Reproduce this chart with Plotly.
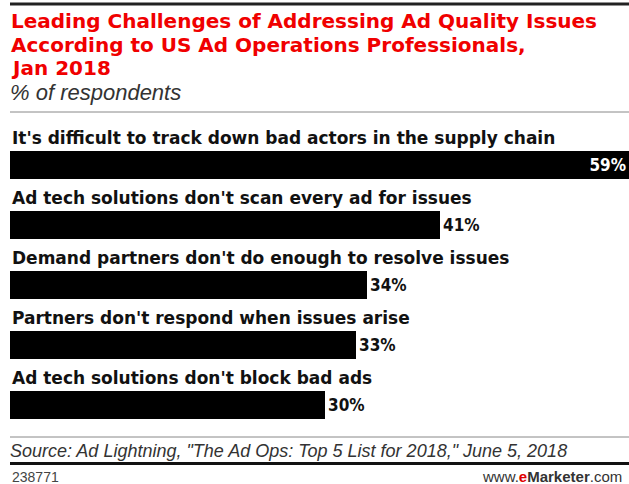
import plotly.graph_objects as go

categories = [
    "It's difficult to track down bad actors in the supply chain",
    "Ad tech solutions don't scan every ad for issues",
    "Demand partners don't do enough to resolve issues",
    "Partners don't respond when issues arise",
    "Ad tech solutions don't block bad ads",
]
values = [59, 41, 34, 33, 30]
title_lines = [
    "Leading Challenges of Addressing Ad Quality Issues",
    "According to US Ad Operations Professionals,",
    "Jan 2018",
]
subtitle = "% of respondents"
source = 'Source: Ad Lightning, "The Ad Ops: Top 5 List for 2018," June 5, 2018'
chart_id = "238771"

W, H = 629, 484
def py(p):  # pixel y -> paper y
    return 1 - p / H
def px(p):
    return p / W

COND_FONT = "DejaVu Sans Condensed, DejaVu Sans, sans-serif"
BOLD_FONT = "DejaVu Sans, sans-serif"
TEXT_FONT = "Liberation Sans, Arial, sans-serif"

idx = list(range(len(categories)))
positions = ["inside" if i == 0 else "outside" for i in idx]

fig = go.Figure()
fig.add_trace(go.Bar(
    x=values, y=idx, orientation="h",
    marker=dict(color="#000000", line=dict(width=0)),
    width=0.48,
    text=[f"{v}%" for v in values],
    textposition=positions,
    insidetextanchor="end",
    insidetextfont=dict(color="white", size=17, family=COND_FONT, weight="bold"),
    outsidetextfont=dict(color="#111111", size=17, family=COND_FONT, weight="bold"),
    cliponaxis=False,
    hoverinfo="skip",
))

annotations = []
for i, c in enumerate(categories):
    annotations.append(dict(
        x=0, y=i - 0.435, xref="x", yref="y", text=c, showarrow=False,
        xanchor="left", yanchor="middle",
        font=dict(family=BOLD_FONT, size=17, color="#111111", weight="bold"),
    ))

title_y = [21, 45, 68]
for t, yy in zip(title_lines, title_y):
    annotations.append(dict(
        x=px(9), y=py(yy), xref="paper", yref="paper", text=t, showarrow=False,
        xanchor="left", yanchor="middle",
        font=dict(family=BOLD_FONT, size=20, color="#f00000", weight="bold"),
    ))
annotations.append(dict(
    x=px(8), y=py(93), xref="paper", yref="paper", text=subtitle, showarrow=False,
    xanchor="left", yanchor="middle",
    font=dict(family=TEXT_FONT, size=22, color="#333333", style="italic"),
))
annotations.append(dict(
    x=px(8), y=py(451), xref="paper", yref="paper", text=source, showarrow=False,
    xanchor="left", yanchor="middle",
    font=dict(family=TEXT_FONT, size=18, color="#333333", style="italic"),
))
annotations.append(dict(
    x=px(10), y=py(477), xref="paper", yref="paper", text=chart_id, showarrow=False,
    xanchor="left", yanchor="middle",
    font=dict(family=TEXT_FONT, size=14, color="#444444"),
))
annotations.append(dict(
    x=px(624), y=py(476), xref="paper", yref="paper",
    text="www.<b><span style='color:#e00000'>e</span>Marketer</b>.com",
    showarrow=False, xanchor="right", yanchor="middle",
    font=dict(family=TEXT_FONT, size=15, color="#333333"),
))

shapes = [
    dict(type="line", xref="paper", yref="paper", x0=px(10), x1=1, y0=py(4), y1=py(4),
         line=dict(color="#222222", width=3)),
    dict(type="line", xref="paper", yref="paper", x0=px(10), x1=1, y0=py(112), y1=py(112),
         line=dict(color="#888888", width=1)),
    dict(type="line", xref="paper", yref="paper", x0=px(10), x1=1, y0=py(437), y1=py(437),
         line=dict(color="#888888", width=1)),
    dict(type="line", xref="paper", yref="paper", x0=px(10), x1=1, y0=py(463.5), y1=py(463.5),
         line=dict(color="#111111", width=3)),
]

fig.update_layout(
    width=W, height=H,
    margin=dict(l=0, r=0, t=0, b=0),
    paper_bgcolor="white", plot_bgcolor="white",
    showlegend=False,
    xaxis=dict(domain=[px(10), 1], range=[0, 59], visible=False, fixedrange=True),
    yaxis=dict(domain=[py(434.5), py(134.5)], range=[4.5, -0.5], visible=False, fixedrange=True),
    annotations=annotations,
    shapes=shapes,
    bargap=0,
)

fig.write_html("out.html")
